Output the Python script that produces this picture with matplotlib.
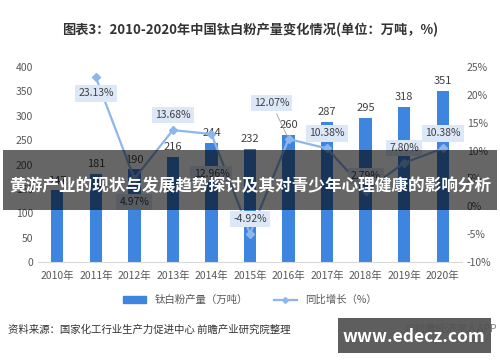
import matplotlib.pyplot as plt
from matplotlib.patches import Rectangle, Patch
from matplotlib.lines import Line2D
import numpy as np

plt.rcParams['font.family'] = ['Noto Sans CJK SC', 'DejaVu Sans']

# 数据
years = ['2010年', '2011年', '2012年', '2013年', '2014年', '2015年',
         '2016年', '2017年', '2018年', '2019年', '2020年']
output = [147, 181, 190, 216, 244, 232, 260, 287, 295, 318, 351]
growth = [np.nan, 23.13, 4.97, 13.68, 12.96, -4.92, 12.07, 10.38, 2.79, 7.80, 10.38]
# 标签偏移（像素）
label_offsets = [None, (0, -16), (0, -23), (0, 15), (0, -40), (0, 15),
                 (-17, 36), (0, 15), (0, 15), (0, 15), (0, 15)]

bar_color = '#3E85DF'
line_color = '#8DB6EC'
text_color = '#595959'

fig = plt.figure(figsize=(5, 3.62), dpi=100)
ax = fig.add_axes([0.076, 0.276, 0.848, 0.539])
ax2 = ax.twinx()

x = np.arange(len(years))
ax.bar(x, output, width=0.32, color=bar_color, zorder=2)
for xi, v in zip(x, output):
    ax.text(xi, v + 10, str(v), ha='center', va='bottom', fontsize=8, color='#404040')

ax.set_xlim(-0.5, 10.5)
ax.set_ylim(0, 400)
ax.set_yticks(range(0, 401, 50))
ax.set_xticks(x)
ax.set_xticklabels(years)

ax2.plot(x, growth, color=line_color, marker='D', markersize=4, linewidth=1.6, zorder=3)
ax2.set_ylim(-10, 25)
ax2.set_yticks(range(-10, 26, 5))
ax2.set_yticklabels([f'{t}%' for t in range(-10, 26, 5)])

for xi, g, off in zip(x, growth, label_offsets):
    if off is None:
        continue
    arrow = None
    if off == (-17, 36):
        arrow = dict(arrowstyle='-', color='#A0A0A0', lw=0.6)
    ax2.annotate(f'{g:.2f}%', (xi, g), xytext=off, textcoords='offset pixels',
                 ha='center', va='center', fontsize=7.5, color='#404040',
                 bbox=dict(boxstyle='square,pad=0.3', fc='#DCE7F7', ec='none'),
                 arrowprops=arrow)

for a in (ax, ax2):
    for s in a.spines.values():
        s.set_visible(False)
    a.tick_params(length=0, labelsize=7.5, colors=text_color)
ax.spines['bottom'].set_visible(True)
ax.spines['bottom'].set_color('#D9D9D9')
ax.tick_params(axis='x', pad=6)

# 图例
handles = [Patch(color=bar_color),
           Line2D([], [], color=line_color, marker='D', markersize=3, lw=1.6)]
fig.legend(handles, ['钛白粉产量（万吨）', '同比增长（%）'], loc='center',
           bbox_to_anchor=(0.5, 1 - 300 / 362), ncol=2, frameon=False,
           fontsize=7.5, labelcolor=text_color, handlelength=2.2, columnspacing=2.5)

fig.text(0.5, 1 - 30 / 362, '图表3：2010-2020年中国钛白粉产量变化情况(单位：万吨，%)',
         ha='center', va='center', fontsize=9.5, fontweight='bold', color='#333333')
fig.text(8 / 500, 1 - 330 / 362, '资料来源：国家化工行业生产力促进中心 前瞻产业研究院整理',
         ha='left', va='center', fontsize=7.5, color='#333333')
fig.text(497 / 500, 1 - 328 / 362, '@前瞻经济学人APP',
         ha='right', va='center', fontsize=7.5, color='#808080')

# 横幅
fig.patches.append(Rectangle((3 / 500, 1 - 210 / 362), 494 / 500, 60 / 362,
                             transform=fig.transFigure, fc='black', alpha=0.6, zorder=5))
fig.text(0.5, 1 - 186 / 362, '黄游产业的现状与发展趋势探讨及其对青少年心理健康的影响分析',
         ha='center', va='center', fontsize=12, fontweight='bold', color='white', zorder=6)

# 水印
fig.patches.append(Rectangle((338 / 500, 1 - 353 / 362), 153 / 500, 35 / 362,
                             transform=fig.transFigure, fc='#505050', alpha=0.92, zorder=5))
fig.text(414 / 500, 1 - 337 / 362, 'www.edecz.com', ha='center', va='center',
         fontsize=12.5, fontweight='bold', color='white', zorder=6)

fig.savefig('out.png', dpi=100)
